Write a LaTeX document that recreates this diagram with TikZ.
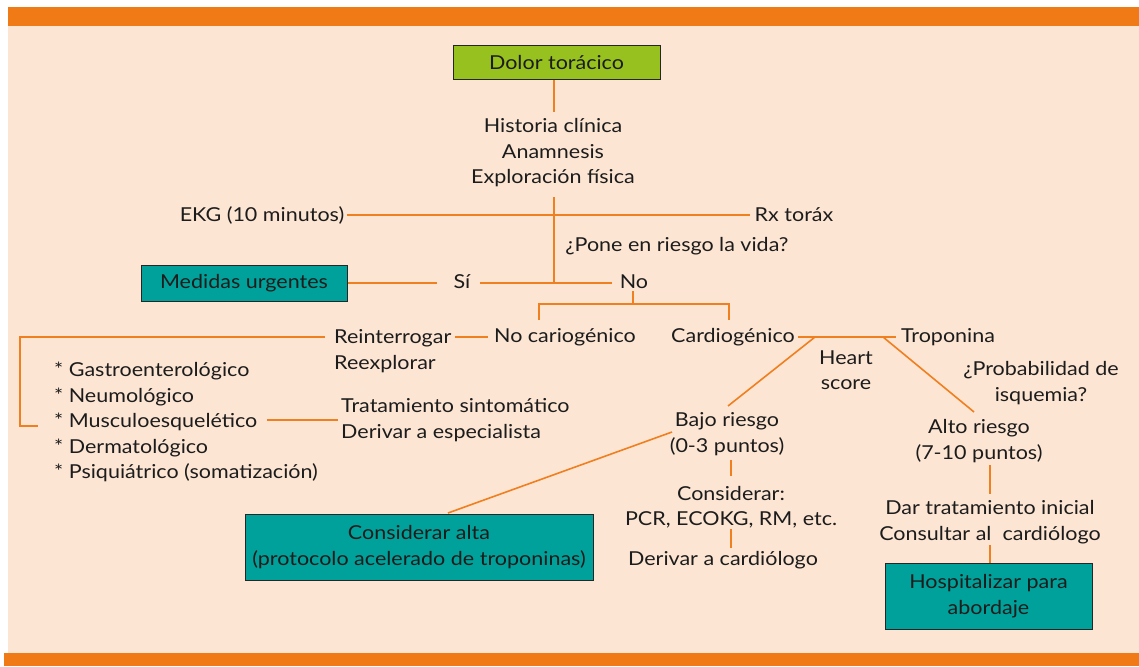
\documentclass[tikz,border=0pt]{standalone}
\usepackage{fontspec}
\setmainfont{Lato}[FakeStretch=1.12]
\definecolor{band}{HTML}{EF7A16}
\definecolor{peach}{HTML}{FDE5D3}
\definecolor{lineor}{HTML}{F07F1F}
\definecolor{teal}{HTML}{00A19A}
\definecolor{lgreen}{HTML}{97C11F}
\definecolor{textc}{HTML}{1C1C1C}
\begin{document}
\begin{tikzpicture}[x=1pt,y=-1pt,
  txt/.style={font=\fontsize{19.2}{25.5}\selectfont, text=textc, align=center, inner sep=0pt},
  ln/.style={draw=lineor, line width=1.6pt},
  box/.style={draw=black!85, line width=1pt, inner sep=0pt, font=\fontsize{19.2}{25.5}\selectfont, text=textc, align=center}]
\useasboundingbox (0,0) rectangle (1139,666);
\fill[white] (0,0) rectangle (1139,666);
\fill[peach] (8,7) rectangle (1139,666);
\fill[band] (8,7) rectangle (1139,26);
\fill[band] (4,653) rectangle (1139,666);

% boxes
\node[box, fill=lgreen, minimum width=207pt, minimum height=34pt] (dolor) at (556.5,63) {Dolor torácico};
\node[box, fill=teal, minimum width=206pt, minimum height=36pt] (medidas) at (244,283) {Medidas urgentes};
\node[box, fill=teal, minimum width=348pt, minimum height=66pt] (alta) at (419,547) {Considerar alta\\(protocolo acelerado de troponinas)};
\node[box, fill=teal, minimum width=207pt, minimum height=66pt] (hosp) at (988.5,596) {Hospitalizar para\\abordaje};

% texts
\node[txt] (hist) at (553,153) {Historia clínica\\Anamnesis\\Exploración física};
\node[txt] (ekg) at (262,215) {EKG (10 minutos)};
\node[txt] (rx) at (794,215) {Rx toráx};
\node[txt] (pone) at (677,246) {¿Pone en riesgo la vida?};
\node[txt] (si) at (462,282) {Sí};
\node[txt] (no) at (634,282) {No};
\node[txt] (nocard) at (565,337) {No cariogénico};
\node[txt] (card) at (733,337) {Cardiogénico};
\node[txt] (trop) at (948,337) {Troponina};
\node[txt] (heart) at (846,370) {Heart\\score};
\node[txt] (prob) at (1041,383) {¿Probabilidad de\\isquemia?};
\node[txt, anchor=west, align=left] (reint) at (334,351) {Reinterrogar\\Reexplorar};
\node[txt, anchor=west, align=left] (list) at (54,422) {* Gastroenterológico\\* Neumológico\\* Musculoesquelético\\* Dermatológico\\* Psiquiátrico (somatización)};
\node[txt, anchor=west, align=left] (trat) at (341,420) {Tratamiento sintomático\\Derivar a especialista};
\node[txt] (bajo) at (727,434) {Bajo riesgo\\(0-3 puntos)};
\node[txt] (alto) at (979,441) {Alto riesgo\\(7-10 puntos)};
\node[txt] (cons) at (731,507) {Considerar:\\PCR, ECOKG, RM, etc.};
\node[txt] (deriv) at (723,560) {Derivar a cardiólogo};
\node[txt] (dar) at (990,522) {Dar tratamiento inicial\\Consultar al\ \ cardiólogo};

% coordinates
\coordinate (a1) at (554,112);
\coordinate (a2) at (554,197);
\coordinate (a3) at (554,283);
\coordinate (e1) at (347,215);
\coordinate (e2) at (750,215);
\coordinate (s1) at (437,283);
\coordinate (s2) at (480,283);
\coordinate (n1) at (612,283);
\coordinate (n2) at (633,291);
\coordinate (n3) at (633,304);
\coordinate (n4) at (539,320);
\coordinate (n5) at (729,320);
\coordinate (r1) at (455,337);
\coordinate (r2) at (488,337);
\coordinate (r3) at (325,337);
\coordinate (r4) at (38,426);
\coordinate (m1) at (267,420);
\coordinate (m2) at (338,420);
\coordinate (c1) at (798,337);
\coordinate (c2) at (896,337);
\coordinate (c3) at (815,337);
\coordinate (c4) at (883,337);
\coordinate (b1) at (728,406);
\coordinate (b2) at (974,412);
\coordinate (b3) at (672,432);
\coordinate (k1) at (731,460);
\coordinate (k2) at (731,476);
\coordinate (k3) at (731,529);
\coordinate (k4) at (731,548);
\coordinate (h1) at (990,465);
\coordinate (h2) at (990,494);
\coordinate (h3) at (990,545);

% connectors
\draw[ln] (dolor.south -| a1) -- (a1);
\draw[ln] (a2) -- (a3);
\draw[ln] (e1) -- (e2);
\draw[ln] (medidas.east) -- (s1);
\draw[ln] (s2) -- (n1);
\draw[ln] (n2) -- (n3);
\draw[ln] (n4) |- (n3) -| (n5);
\draw[ln] (r1) -- (r2);
\draw[ln] (r3) -- (20,337) -- (20,426) -- (r4);
\draw[ln] (m1) -- (m2);
\draw[ln] (c1) -- (c2);
\draw[ln] (c3) -- (b1);
\draw[ln] (c4) -- (b2);
\draw[ln] (b3) -- (448,513);
\draw[ln] (k1) -- (k2);
\draw[ln] (k3) -- (k4);
\draw[ln] (h1) -- (h2);
\draw[ln] (h3) -- (hosp.north -| h3);
\end{tikzpicture}
\end{document}
